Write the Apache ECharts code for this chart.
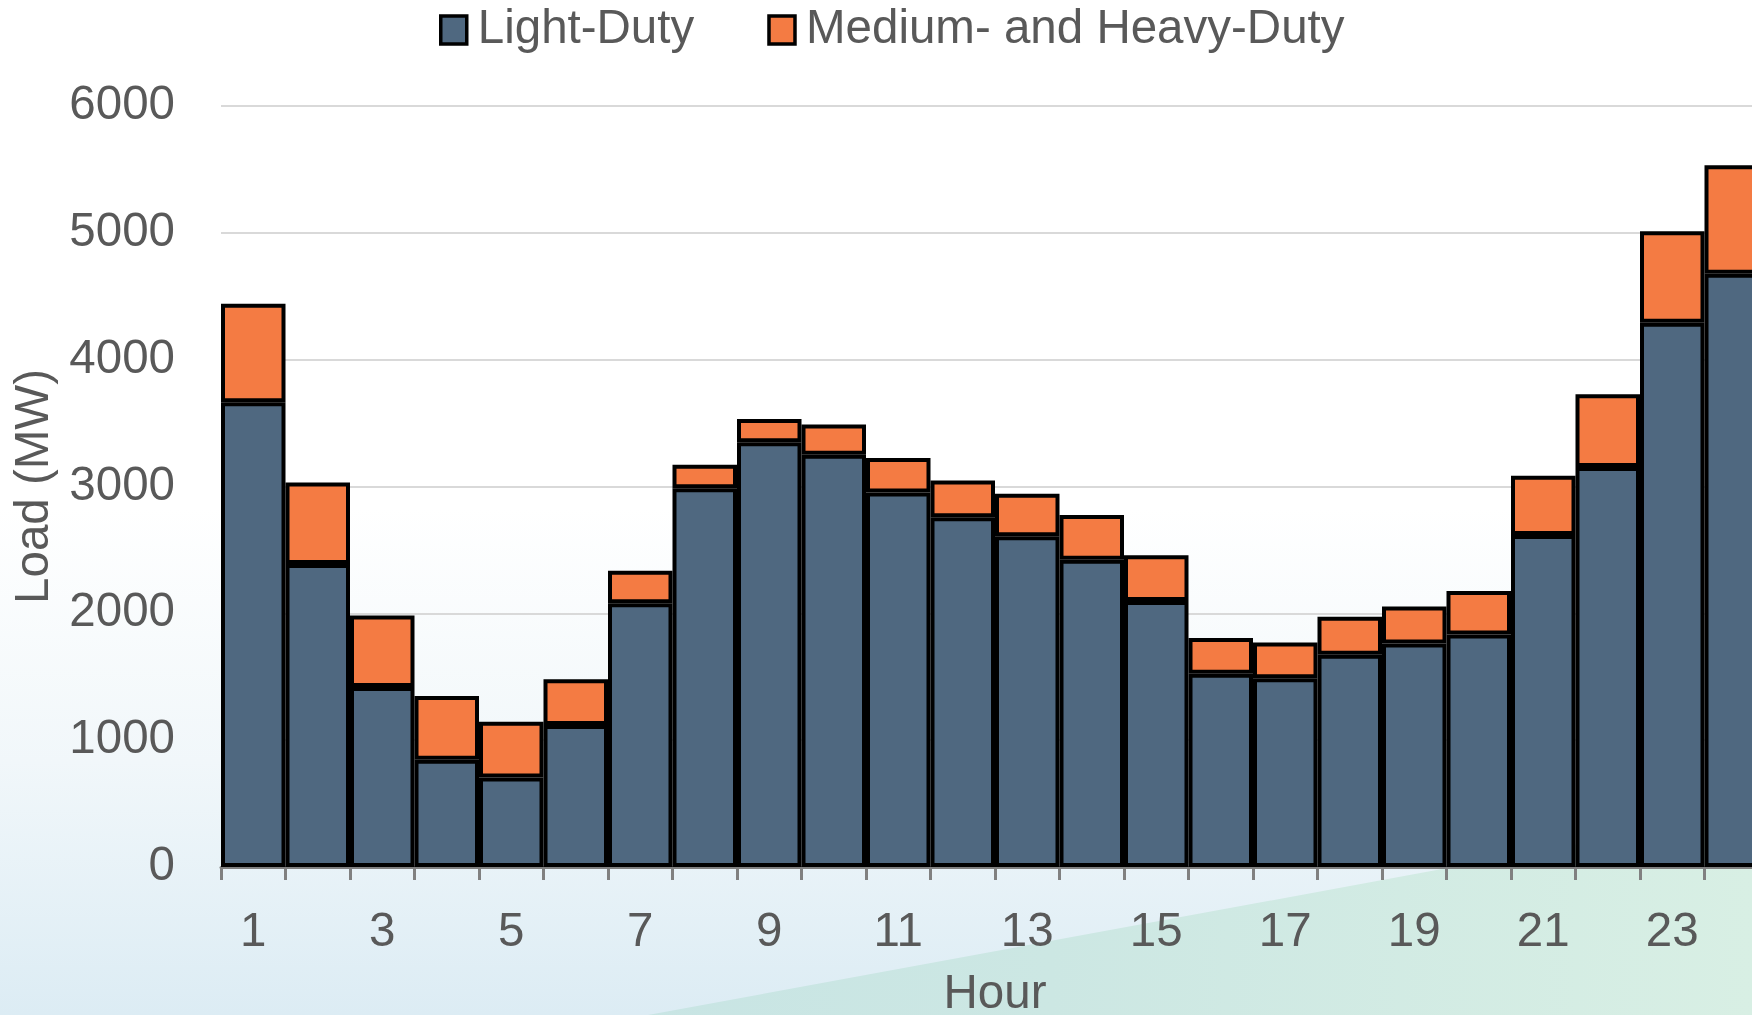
<!DOCTYPE html>
<html>
<head>
<meta charset="utf-8">
<script src="https://cdn.jsdelivr.net/npm/echarts@6/dist/echarts.min.js"></script>
<style>
  html, body { margin: 0; padding: 0; overflow: hidden; width: 1752px; height: 1015px; }
  #bg { position: absolute; left: 0; top: 0; width: 1752px; height: 1015px;
        background: linear-gradient(to bottom, #ffffff 0%, #ffffff 50%, #f1f7fa 75%, #dcecf4 100%); }
  #wedge { position: absolute; left: 0; top: 0; width: 1752px; height: 1015px;
        background: linear-gradient(to right, #c2e1e5 0%, #cce7e3 60%, #d8efe4 100%);
        clip-path: polygon(648px 1015px, 1752px 812px, 1752px 1015px); }
  #chart { position: absolute; left: 0; top: 0; width: 1800px; height: 1015px; }
</style>
</head>
<body>
<div id="bg"></div>
<div id="wedge"></div>
<div id="chart"></div>
<script>
const hours = ['1','2','3','4','5','6','7','8','9','10','11','12','13','14','15','16','17','18','19','20','21','22','23','24'];
const lightDuty = [3665, 2388, 1419, 846, 705, 1119, 2079, 2987, 3348, 3251, 2952, 2758, 2608, 2423, 2097, 1524, 1489, 1674, 1762, 1833, 2617, 3154, 4291, 4678];
const mediumHeavyDuty = [775, 643, 563, 502, 440, 361, 256, 185, 185, 238, 273, 290, 335, 352, 361, 282, 282, 300, 291, 343, 467, 573, 722, 855];
const yTicks = [0, 1000, 2000, 3000, 4000, 5000, 6000];

const FONT = '"Liberation Sans", Arial, sans-serif';
const TXT = '#595959';

const chart = echarts.init(document.getElementById('chart'), null, { renderer: 'canvas' });
chart.setOption({
  backgroundColor: 'transparent',
  animation: false,
  textStyle: { fontFamily: FONT },
  legend: {
    left: 439, top: 6, padding: 0,
    icon: 'rect', itemWidth: 26, itemHeight: 28, itemGap: 73,
    itemStyle: { borderColor: '#000', borderWidth: 3.5 },
    textStyle: { fontSize: 47.5, color: TXT, fontFamily: FONT, padding: [0, 0, 0, 6] },
    data: ['Light-Duty', 'Medium- and Heavy-Duty']
  },
  grid: { left: 221, right: 31, top: 106, bottom: 148, containLabel: false, outerBoundsMode: 'none' },
  xAxis: {
    type: 'category',
    data: hours,
    name: 'Hour',
    nameLocation: 'middle',
    nameGap: 104,
    nameTextStyle: { fontSize: 47.5, color: TXT, fontFamily: FONT },
    axisLine: { show: true, lineStyle: { color: '#808080', width: 3 } },
    axisTick: { show: true, alignWithLabel: false, interval: 0, length: 13, lineStyle: { color: '#808080', width: 3 } },
    axisLabel: { interval: 1, fontSize: 47.5, color: TXT, fontFamily: FONT, margin: 42 }
  },
  yAxis: {
    type: 'value',
    min: yTicks[0], max: yTicks[yTicks.length - 1], interval: 1000,
    name: 'Load (MW)',
    nameLocation: 'middle',
    nameGap: 142,
    nameTextStyle: { fontSize: 47.5, color: TXT, fontFamily: FONT },
    axisLine: { show: false },
    axisTick: { show: false },
    axisLabel: { fontSize: 47.5, color: TXT, fontFamily: FONT, margin: 46, formatter: v => String(v) },
    splitLine: { show: true, lineStyle: { color: '#d9d9d9', width: 2 } }
  },
  series: [
    {
      name: 'Light-Duty', type: 'bar', stack: 'load', data: lightDuty,
      barCategoryGap: 0, barWidth: '100%',
      itemStyle: { color: '#4f6880', borderColor: '#000', borderWidth: 4 }
    },
    {
      name: 'Medium- and Heavy-Duty', type: 'bar', stack: 'load', data: mediumHeavyDuty,
      barCategoryGap: 0, barWidth: '100%',
      itemStyle: { color: '#f47b43', borderColor: '#000', borderWidth: 4 }
    }
  ]
});
</script>
</body>
</html>
